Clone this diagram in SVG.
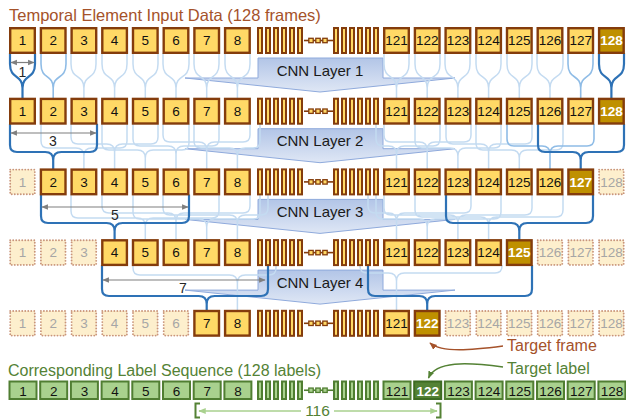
<svg xmlns="http://www.w3.org/2000/svg" xmlns:xlink="http://www.w3.org/1999/xlink" width="626" height="419" viewBox="0 0 626 419">
<style>
text{font-family:'Liberation Sans',Arial,sans-serif}
.n{fill:#ffd966;stroke:#843c0c;stroke-width:2.4}
.h{fill:#bf9000;stroke:#843c0c;stroke-width:2.4}
.f{fill:#fdefcd;stroke:#c9957a;stroke-width:1.9;stroke-dasharray:0.01 3;stroke-linecap:round}
.g{fill:#a9d18e;stroke:#507e32;stroke-width:2}
.gh{fill:#548235;stroke:#3d6b22;stroke-width:2}
.n text,.h text,.f text,.g text,.gh text{stroke:none;font-size:13.5px;text-anchor:middle}
.n text,.g text{fill:#111}
.h text,.gh text{fill:#fff;font-weight:bold}
.f text{fill:#a6a6a6}
.barY{fill:#ffd966;stroke:#843c0c;stroke-width:2}
.barG{fill:#a9d18e;stroke:#507e32;stroke-width:2}
.lt{fill:none;stroke:#c4dbf1;stroke-width:1.5}
.md{fill:none;stroke:#8fbce6;stroke-width:1.6}
.dk{fill:none;stroke:#2e72b6;stroke-width:2.2}
.dim{stroke:#7f7f7f;stroke-width:1.2;marker-start:url(#ga);marker-end:url(#ga)}
.dimt{font-size:14px;fill:#262626;text-anchor:middle}
.cnn{fill:url(#cg);stroke:#8faadc;stroke-width:1}
.cnnt{font-size:15px;fill:#1a1a1a;text-anchor:middle}
</style>
<defs>
<linearGradient id="cg" x1="0" y1="0" x2="0" y2="1"><stop offset="0" stop-color="#b2c5e7"/><stop offset="1" stop-color="#dfe7f5"/></linearGradient>
<marker id="ga" viewBox="0 0 10 10" refX="9" refY="5" markerWidth="5.5" markerHeight="5.5" orient="auto-start-reverse"><path d="M0 1L10 5L0 9z" fill="#7f7f7f"/></marker>
<marker id="ba" viewBox="0 0 10 10" refX="9" refY="5" markerWidth="5" markerHeight="5" orient="auto"><path d="M0 1L10 5L0 9z" fill="#a5522a"/></marker>
<marker id="gra" viewBox="0 0 10 10" refX="9" refY="5" markerWidth="5" markerHeight="5" orient="auto"><path d="M0 1L10 5L0 9z" fill="#548235"/></marker>
<marker id="lga" viewBox="0 0 10 10" refX="9" refY="5" markerWidth="5" markerHeight="5" orient="auto-start-reverse"><path d="M0 1L10 5L0 9z" fill="#a9d18e"/></marker>
<rect id="r" x="1.2" y="1.2" width="24.6" height="24.6"/>
<rect id="rg" x="0.5" y="1" width="27" height="17.5"/>
<polygon id="cnn" points="258,58 383,58 383,78 455,78 320,92 185,78 258,78"/>
<g id="barsY">
<line x1="304" y1="13.5" x2="334" y2="13.5" stroke-width="1.6"/>
<rect x="258" y="1" width="4" height="25"/><rect x="266" y="1" width="4" height="25"/><rect x="274" y="1" width="4" height="25"/><rect x="282" y="1" width="4" height="25"/><rect x="290" y="1" width="4" height="25"/><rect x="298" y="1" width="4" height="25"/>
<rect x="334" y="1" width="4" height="25"/><rect x="342" y="1" width="4" height="25"/><rect x="350" y="1" width="4" height="25"/><rect x="358" y="1" width="4" height="25"/><rect x="366" y="1" width="4" height="25"/><rect x="374" y="1" width="4" height="25"/>
<rect x="308.8" y="11.3" width="4.4" height="4.4" stroke-width="1.3"/><rect x="315.8" y="11.3" width="4.4" height="4.4" stroke-width="1.3"/><rect x="322.8" y="11.3" width="4.4" height="4.4" stroke-width="1.3"/>
</g>
<g id="barsG">
<line x1="304" y1="9.75" x2="334" y2="9.75" stroke-width="1.6"/>
<rect x="258" y="1" width="4" height="17.5"/><rect x="266" y="1" width="4" height="17.5"/><rect x="274" y="1" width="4" height="17.5"/><rect x="282" y="1" width="4" height="17.5"/><rect x="290" y="1" width="4" height="17.5"/><rect x="298" y="1" width="4" height="17.5"/>
<rect x="334" y="1" width="4" height="17.5"/><rect x="342" y="1" width="4" height="17.5"/><rect x="350" y="1" width="4" height="17.5"/><rect x="358" y="1" width="4" height="17.5"/><rect x="366" y="1" width="4" height="17.5"/><rect x="374" y="1" width="4" height="17.5"/>
<rect x="308.8" y="7.55" width="4.4" height="4.4" stroke-width="1.3"/><rect x="315.8" y="7.55" width="4.4" height="4.4" stroke-width="1.3"/><rect x="322.8" y="7.55" width="4.4" height="4.4" stroke-width="1.3"/>
</g>
</defs>
<rect width="626" height="419" fill="#fff"/>

<text x="9" y="21" font-size="16.5" fill="#a5522a">Temporal Element Input Data (128 frames)</text>

<g id="cnn-layers">
<g id="cnn1"><use href="#cnn" class="cnn"/><text class="cnnt" x="320" y="75.5">CNN Layer 1</text></g>
<g id="cnn2"><use href="#cnn" class="cnn" y="70.7"/><text class="cnnt" x="320" y="146.2">CNN Layer 2</text></g>
<g id="cnn3"><use href="#cnn" class="cnn" y="141.4"/><text class="cnnt" x="320" y="216.9">CNN Layer 3</text></g>
<g id="cnn4"><use href="#cnn" class="cnn" y="212.1"/><text class="cnnt" x="320" y="287.6">CNN Layer 4</text></g>
</g>

<g id="connectors">
<path class="lt" d="M71 53V64C71 80 83.9 74 83.9 88V98.7M96 53V64C96 80 83.9 74 83.9 88V98.7M102 53V64C102 80 114.6 74 114.6 88V98.7M127 53V64C127 80 114.6 74 114.6 88V98.7M133 53V64C133 80 145.3 74 145.3 88V98.7M158 53V64C158 80 145.3 74 145.3 88V98.7M163 53V64C163 80 176 74 176 88V98.7M189 53V64C189 80 176 74 176 88V98.7M194 53V64C194 80 206.7 74 206.7 88V98.7M219 53V64C219 80 206.7 74 206.7 88V98.7M225 53V64C225 80 237.4 74 237.4 88V98.7M250 53V64C250 80 237.4 74 237.4 88V98.7"/>
<path class="lt" d="M384 53V64C384 80 396.5 74 396.5 88V98.7M409 53V64C409 80 396.5 74 396.5 88V98.7M415 53V64C415 80 427.2 74 427.2 88V98.7M440 53V64C440 80 427.2 74 427.2 88V98.7M445 53V64C445 80 457.9 74 457.9 88V98.7M470 53V64C470 80 457.9 74 457.9 88V98.7M476 53V64C476 80 488.6 74 488.6 88V98.7M501 53V64C501 80 488.6 74 488.6 88V98.7M507 53V64C507 80 519.3 74 519.3 88V98.7M532 53V64C532 80 519.3 74 519.3 88V98.7M537 53V64C537 80 550 74 550 88V98.7M563 53V64C563 80 550 74 550 88V98.7"/>
<path class="md" d="M41 53V64C41 80 53.2 74 53.2 88V98.7M66 53V64C66 80 53.2 74 53.2 88V98.7M568 53V64C568 80 580.7 74 580.7 88V98.7M593 53V64C593 80 580.7 74 580.7 88V98.7"/>
<path class="lt" d="M41 123.7V141Q41 148 48 148H75.9Q83.9 148 83.9 156V169.4M127 123.7V141Q127 148 120 148H91.9Q83.9 148 83.9 156V169.4M71 123.7V137Q71 144 78 144H106.6Q114.6 144 114.6 152V169.4M158 123.7V137Q158 144 151 144H122.6Q114.6 144 114.6 152V169.4M102 123.7V143Q102 150 109 150H137.3Q145.3 150 145.3 158V169.4M189 123.7V143Q189 150 182 150H153.3Q145.3 150 145.3 158V169.4M133 123.7V139Q133 146 140 146H168Q176 146 176 154V169.4M219 123.7V139Q219 146 212 146H184Q176 146 176 154V169.4M163 123.7V135Q163 142 170 142H198.7Q206.7 142 206.7 150V169.4M250 123.7V135Q250 142 243 142H214.7Q206.7 142 206.7 150V169.4M194 123.7V141Q194 148 201 148H229.4Q237.4 148 237.4 156V169.4M260 123.7V141Q260 148 253 148H245.4Q237.4 148 237.4 156V169.4"/>
<path class="lt" d="M376 123.7V139Q376 146 383 146H388.5Q396.5 146 396.5 154V169.4M440 123.7V139Q440 146 433 146H404.5Q396.5 146 396.5 154V169.4M384 123.7V135Q384 142 391 142H419.2Q427.2 142 427.2 150V169.4M471 123.7V135Q471 142 464 142H435.2Q427.2 142 427.2 150V169.4M415 123.7V141Q415 148 422 148H449.9Q457.9 148 457.9 156V169.4M501 123.7V141Q501 148 494 148H465.9Q457.9 148 457.9 156V169.4M446 123.7V137Q446 144 453 144H480.6Q488.6 144 488.6 152V169.4M532 123.7V137Q532 144 525 144H496.6Q488.6 144 488.6 152V169.4M476 123.7V143Q476 150 483 150H511.3Q519.3 150 519.3 158V169.4M563 123.7V143Q563 150 556 150H527.3Q519.3 150 519.3 158V169.4"/>
<path class="md" d="M507 123.7V139Q507 146 514 146H542Q550 146 550 154V169.4M594 123.7V139Q594 146 587 146H558Q550 146 550 154V169.4"/>
<path class="lt" d="M71 194.4V211Q71 218 78 218H137.3Q145.3 218 145.3 226V240.1M219 194.4V211Q219 218 212 218H153.3Q145.3 218 145.3 226V240.1M102 194.4V206Q102 213 109 213H168Q176 213 176 221V240.1M250 194.4V206Q250 213 243 213H184Q176 213 176 221V240.1M133 194.4V212Q133 219 140 219H198.7Q206.7 219 206.7 227V240.1M260 194.4V212Q260 219 253 219H214.7Q206.7 219 206.7 227V240.1M163 194.4V208Q163 215 170 215H229.4Q237.4 215 237.4 223V240.1M268 194.4V208Q268 215 261 215H245.4Q237.4 215 237.4 223V240.1"/>
<path class="lt" d="M368 194.4V206Q368 213 375 213H388.5Q396.5 213 396.5 221V240.1M471 194.4V206Q471 213 464 213H404.5Q396.5 213 396.5 221V240.1M376 194.4V212Q376 219 383 219H419.2Q427.2 219 427.2 227V240.1M501 194.4V212Q501 219 494 219H435.2Q427.2 219 427.2 227V240.1M384 194.4V208Q384 215 391 215H449.9Q457.9 215 457.9 223V240.1M532 194.4V208Q532 215 525 215H465.9Q457.9 215 457.9 223V240.1M415 194.4V210Q415 217 422 217H480.6Q488.6 217 488.6 225V240.1M563 194.4V210Q563 217 556 217H496.6Q488.6 217 488.6 225V240.1"/>
<path class="lt" d="M133 265.1V268Q133 275 140 275H229.4Q237.4 275 237.4 283V310.8M276 265.1V268Q276 275 269 275H245.4Q237.4 275 237.4 283V310.8M360 265.1V266Q360 273 367 273H388.5Q396.5 273 396.5 281V310.8M502 265.1V266Q502 273 495 273H404.5Q396.5 273 396.5 281V310.8"/>
<path class="dk" d="M10 53V64C10 80 22.5 74 22.5 88V98.7M35 53V64C35 80 22.5 74 22.5 88V98.7"/>
<path class="dk" d="M599 53V64C599 80 611.4 74 611.4 88V98.7M624 53V64C624 80 611.4 74 611.4 88V98.7"/>
<path class="dk" d="M10 123.7V145Q10 152 17 152H45.2Q53.2 152 53.2 160V169.4M97 123.7V145Q97 152 90 152H61.2Q53.2 152 53.2 160V169.4"/>
<path class="dk" d="M538 123.7V145Q538 152 545 152H572.7Q580.7 152 580.7 160V169.4M624 123.7V145Q624 152 617 152H588.7Q580.7 152 580.7 160V169.4"/>
<path class="dk" d="M41 194.4V216Q41 223 48 223H106.6Q114.6 223 114.6 231V240.1M189 194.4V216Q189 223 182 223H122.6Q114.6 223 114.6 231V240.1"/>
<path class="dk" d="M446 194.4V216Q446 223 453 223H511.3Q519.3 223 519.3 231V240.1M593 194.4V216Q593 223 586 223H527.3Q519.3 223 519.3 231V240.1"/>
<path class="dk" d="M102 265.1V289Q102 296 109 296H198.7Q206.7 296 206.7 304V310.8M268 265.1V289Q268 296 261 296H214.7Q206.7 296 206.7 304V310.8"/>
<path class="dk" d="M368 265.1V289Q368 296 375 296H419.2Q427.2 296 427.2 304V310.8M532 265.1V289Q532 296 525 296H435.2Q427.2 296 427.2 304V310.8"/>
<path d="M503 346C472 350 442 353 430 343" fill="none" stroke="#a5522a" stroke-width="1.5" marker-end="url(#ba)"/>
<path d="M503 367C466 362 436 361 428.5 378" fill="none" stroke="#548235" stroke-width="1.5" marker-end="url(#gra)"/>
</g>

<g id="row1">
<g id="in1" class="n" transform="translate(9 27)"><use href="#r"/><text x="13.5" y="18.3">1</text></g>
<g id="in2" class="n" transform="translate(39.7 27)"><use href="#r"/><text x="13.5" y="18.3">2</text></g>
<g id="in3" class="n" transform="translate(70.4 27)"><use href="#r"/><text x="13.5" y="18.3">3</text></g>
<g id="in4" class="n" transform="translate(101.1 27)"><use href="#r"/><text x="13.5" y="18.3">4</text></g>
<g id="in5" class="n" transform="translate(131.8 27)"><use href="#r"/><text x="13.5" y="18.3">5</text></g>
<g id="in6" class="n" transform="translate(162.5 27)"><use href="#r"/><text x="13.5" y="18.3">6</text></g>
<g id="in7" class="n" transform="translate(193.2 27)"><use href="#r"/><text x="13.5" y="18.3">7</text></g>
<g id="in8" class="n" transform="translate(223.9 27)"><use href="#r"/><text x="13.5" y="18.3">8</text></g>
<g id="in-bars"><use href="#barsY" class="barY" y="27"/></g>
<g id="in121" class="n" transform="translate(383 27)"><use href="#r"/><text x="13.5" y="18.3">121</text></g>
<g id="in122" class="n" transform="translate(413.7 27)"><use href="#r"/><text x="13.5" y="18.3">122</text></g>
<g id="in123" class="n" transform="translate(444.4 27)"><use href="#r"/><text x="13.5" y="18.3">123</text></g>
<g id="in124" class="n" transform="translate(475.1 27)"><use href="#r"/><text x="13.5" y="18.3">124</text></g>
<g id="in125" class="n" transform="translate(505.8 27)"><use href="#r"/><text x="13.5" y="18.3">125</text></g>
<g id="in126" class="n" transform="translate(536.5 27)"><use href="#r"/><text x="13.5" y="18.3">126</text></g>
<g id="in127" class="n" transform="translate(567.2 27)"><use href="#r"/><text x="13.5" y="18.3">127</text></g>
<g id="in128" class="h" transform="translate(597.9 27)"><use href="#r"/><text x="13.5" y="18.3">128</text></g>
</g>

<g id="row2">
<g id="l1-1" class="n" transform="translate(9 97.7)"><use href="#r"/><text x="13.5" y="18.3">1</text></g>
<g id="l1-2" class="n" transform="translate(39.7 97.7)"><use href="#r"/><text x="13.5" y="18.3">2</text></g>
<g id="l1-3" class="n" transform="translate(70.4 97.7)"><use href="#r"/><text x="13.5" y="18.3">3</text></g>
<g id="l1-4" class="n" transform="translate(101.1 97.7)"><use href="#r"/><text x="13.5" y="18.3">4</text></g>
<g id="l1-5" class="n" transform="translate(131.8 97.7)"><use href="#r"/><text x="13.5" y="18.3">5</text></g>
<g id="l1-6" class="n" transform="translate(162.5 97.7)"><use href="#r"/><text x="13.5" y="18.3">6</text></g>
<g id="l1-7" class="n" transform="translate(193.2 97.7)"><use href="#r"/><text x="13.5" y="18.3">7</text></g>
<g id="l1-8" class="n" transform="translate(223.9 97.7)"><use href="#r"/><text x="13.5" y="18.3">8</text></g>
<g id="l1-bars"><use href="#barsY" class="barY" y="97.7"/></g>
<g id="l1-121" class="n" transform="translate(383 97.7)"><use href="#r"/><text x="13.5" y="18.3">121</text></g>
<g id="l1-122" class="n" transform="translate(413.7 97.7)"><use href="#r"/><text x="13.5" y="18.3">122</text></g>
<g id="l1-123" class="n" transform="translate(444.4 97.7)"><use href="#r"/><text x="13.5" y="18.3">123</text></g>
<g id="l1-124" class="n" transform="translate(475.1 97.7)"><use href="#r"/><text x="13.5" y="18.3">124</text></g>
<g id="l1-125" class="n" transform="translate(505.8 97.7)"><use href="#r"/><text x="13.5" y="18.3">125</text></g>
<g id="l1-126" class="n" transform="translate(536.5 97.7)"><use href="#r"/><text x="13.5" y="18.3">126</text></g>
<g id="l1-127" class="n" transform="translate(567.2 97.7)"><use href="#r"/><text x="13.5" y="18.3">127</text></g>
<g id="l1-128" class="h" transform="translate(597.9 97.7)"><use href="#r"/><text x="13.5" y="18.3">128</text></g>
</g>

<g id="row3">
<g id="l2-1" class="f" transform="translate(9 168.4)"><use href="#r"/><text x="13.5" y="18.3">1</text></g>
<g id="l2-2" class="n" transform="translate(39.7 168.4)"><use href="#r"/><text x="13.5" y="18.3">2</text></g>
<g id="l2-3" class="n" transform="translate(70.4 168.4)"><use href="#r"/><text x="13.5" y="18.3">3</text></g>
<g id="l2-4" class="n" transform="translate(101.1 168.4)"><use href="#r"/><text x="13.5" y="18.3">4</text></g>
<g id="l2-5" class="n" transform="translate(131.8 168.4)"><use href="#r"/><text x="13.5" y="18.3">5</text></g>
<g id="l2-6" class="n" transform="translate(162.5 168.4)"><use href="#r"/><text x="13.5" y="18.3">6</text></g>
<g id="l2-7" class="n" transform="translate(193.2 168.4)"><use href="#r"/><text x="13.5" y="18.3">7</text></g>
<g id="l2-8" class="n" transform="translate(223.9 168.4)"><use href="#r"/><text x="13.5" y="18.3">8</text></g>
<g id="l2-bars"><use href="#barsY" class="barY" y="168.4"/></g>
<g id="l2-121" class="n" transform="translate(383 168.4)"><use href="#r"/><text x="13.5" y="18.3">121</text></g>
<g id="l2-122" class="n" transform="translate(413.7 168.4)"><use href="#r"/><text x="13.5" y="18.3">122</text></g>
<g id="l2-123" class="n" transform="translate(444.4 168.4)"><use href="#r"/><text x="13.5" y="18.3">123</text></g>
<g id="l2-124" class="n" transform="translate(475.1 168.4)"><use href="#r"/><text x="13.5" y="18.3">124</text></g>
<g id="l2-125" class="n" transform="translate(505.8 168.4)"><use href="#r"/><text x="13.5" y="18.3">125</text></g>
<g id="l2-126" class="n" transform="translate(536.5 168.4)"><use href="#r"/><text x="13.5" y="18.3">126</text></g>
<g id="l2-127" class="h" transform="translate(567.2 168.4)"><use href="#r"/><text x="13.5" y="18.3">127</text></g>
<g id="l2-128" class="f" transform="translate(597.9 168.4)"><use href="#r"/><text x="13.5" y="18.3">128</text></g>
</g>

<g id="row4">
<g id="l3-1" class="f" transform="translate(9 239.1)"><use href="#r"/><text x="13.5" y="18.3">1</text></g>
<g id="l3-2" class="f" transform="translate(39.7 239.1)"><use href="#r"/><text x="13.5" y="18.3">2</text></g>
<g id="l3-3" class="f" transform="translate(70.4 239.1)"><use href="#r"/><text x="13.5" y="18.3">3</text></g>
<g id="l3-4" class="n" transform="translate(101.1 239.1)"><use href="#r"/><text x="13.5" y="18.3">4</text></g>
<g id="l3-5" class="n" transform="translate(131.8 239.1)"><use href="#r"/><text x="13.5" y="18.3">5</text></g>
<g id="l3-6" class="n" transform="translate(162.5 239.1)"><use href="#r"/><text x="13.5" y="18.3">6</text></g>
<g id="l3-7" class="n" transform="translate(193.2 239.1)"><use href="#r"/><text x="13.5" y="18.3">7</text></g>
<g id="l3-8" class="n" transform="translate(223.9 239.1)"><use href="#r"/><text x="13.5" y="18.3">8</text></g>
<g id="l3-bars"><use href="#barsY" class="barY" y="239.1"/></g>
<g id="l3-121" class="n" transform="translate(383 239.1)"><use href="#r"/><text x="13.5" y="18.3">121</text></g>
<g id="l3-122" class="n" transform="translate(413.7 239.1)"><use href="#r"/><text x="13.5" y="18.3">122</text></g>
<g id="l3-123" class="n" transform="translate(444.4 239.1)"><use href="#r"/><text x="13.5" y="18.3">123</text></g>
<g id="l3-124" class="n" transform="translate(475.1 239.1)"><use href="#r"/><text x="13.5" y="18.3">124</text></g>
<g id="l3-125" class="h" transform="translate(505.8 239.1)"><use href="#r"/><text x="13.5" y="18.3">125</text></g>
<g id="l3-126" class="f" transform="translate(536.5 239.1)"><use href="#r"/><text x="13.5" y="18.3">126</text></g>
<g id="l3-127" class="f" transform="translate(567.2 239.1)"><use href="#r"/><text x="13.5" y="18.3">127</text></g>
<g id="l3-128" class="f" transform="translate(597.9 239.1)"><use href="#r"/><text x="13.5" y="18.3">128</text></g>
</g>

<g id="row5">
<g id="l4-1" class="f" transform="translate(9 309.8)"><use href="#r"/><text x="13.5" y="18.3">1</text></g>
<g id="l4-2" class="f" transform="translate(39.7 309.8)"><use href="#r"/><text x="13.5" y="18.3">2</text></g>
<g id="l4-3" class="f" transform="translate(70.4 309.8)"><use href="#r"/><text x="13.5" y="18.3">3</text></g>
<g id="l4-4" class="f" transform="translate(101.1 309.8)"><use href="#r"/><text x="13.5" y="18.3">4</text></g>
<g id="l4-5" class="f" transform="translate(131.8 309.8)"><use href="#r"/><text x="13.5" y="18.3">5</text></g>
<g id="l4-6" class="f" transform="translate(162.5 309.8)"><use href="#r"/><text x="13.5" y="18.3">6</text></g>
<g id="l4-7" class="n" transform="translate(193.2 309.8)"><use href="#r"/><text x="13.5" y="18.3">7</text></g>
<g id="l4-8" class="n" transform="translate(223.9 309.8)"><use href="#r"/><text x="13.5" y="18.3">8</text></g>
<g id="l4-bars"><use href="#barsY" class="barY" y="309.8"/></g>
<g id="l4-121" class="n" transform="translate(383 309.8)"><use href="#r"/><text x="13.5" y="18.3">121</text></g>
<g id="l4-122" class="h" transform="translate(413.7 309.8)"><use href="#r"/><text x="13.5" y="18.3">122</text></g>
<g id="l4-123" class="f" transform="translate(444.4 309.8)"><use href="#r"/><text x="13.5" y="18.3">123</text></g>
<g id="l4-124" class="f" transform="translate(475.1 309.8)"><use href="#r"/><text x="13.5" y="18.3">124</text></g>
<g id="l4-125" class="f" transform="translate(505.8 309.8)"><use href="#r"/><text x="13.5" y="18.3">125</text></g>
<g id="l4-126" class="f" transform="translate(536.5 309.8)"><use href="#r"/><text x="13.5" y="18.3">126</text></g>
<g id="l4-127" class="f" transform="translate(567.2 309.8)"><use href="#r"/><text x="13.5" y="18.3">127</text></g>
<g id="l4-128" class="f" transform="translate(597.9 309.8)"><use href="#r"/><text x="13.5" y="18.3">128</text></g>
</g>

<text x="507" y="351" font-size="16" fill="#a5522a">Target frame</text>
<text x="507" y="374" font-size="16" fill="#548235">Target label</text>
<text x="8" y="376" font-size="16" fill="#548235">Corresponding Label Sequence (128 labels)</text>

<g id="labels">
<g id="lb1" class="g" transform="translate(9 380.5)"><use href="#rg"/><text x="14" y="15">1</text></g>
<g id="lb2" class="g" transform="translate(39.7 380.5)"><use href="#rg"/><text x="14" y="15">2</text></g>
<g id="lb3" class="g" transform="translate(70.4 380.5)"><use href="#rg"/><text x="14" y="15">3</text></g>
<g id="lb4" class="g" transform="translate(101.1 380.5)"><use href="#rg"/><text x="14" y="15">4</text></g>
<g id="lb5" class="g" transform="translate(131.8 380.5)"><use href="#rg"/><text x="14" y="15">5</text></g>
<g id="lb6" class="g" transform="translate(162.5 380.5)"><use href="#rg"/><text x="14" y="15">6</text></g>
<g id="lb7" class="g" transform="translate(193.2 380.5)"><use href="#rg"/><text x="14" y="15">7</text></g>
<g id="lb8" class="g" transform="translate(223.9 380.5)"><use href="#rg"/><text x="14" y="15">8</text></g>
<g id="lb-bars"><use href="#barsG" class="barG" y="380.5"/></g>
<g id="lb121" class="g" transform="translate(383 380.5)"><use href="#rg"/><text x="14" y="15">121</text></g>
<g id="lb122" class="gh" transform="translate(413.7 380.5)"><use href="#rg"/><text x="14" y="15">122</text></g>
<g id="lb123" class="g" transform="translate(444.4 380.5)"><use href="#rg"/><text x="14" y="15">123</text></g>
<g id="lb124" class="g" transform="translate(475.1 380.5)"><use href="#rg"/><text x="14" y="15">124</text></g>
<g id="lb125" class="g" transform="translate(505.8 380.5)"><use href="#rg"/><text x="14" y="15">125</text></g>
<g id="lb126" class="g" transform="translate(536.5 380.5)"><use href="#rg"/><text x="14" y="15">126</text></g>
<g id="lb127" class="g" transform="translate(567.2 380.5)"><use href="#rg"/><text x="14" y="15">127</text></g>
<g id="lb128" class="g" transform="translate(597.9 380.5)"><use href="#rg"/><text x="14" y="15">128</text></g>
</g>

<g id="dimensions">
<line class="dim" x1="11" y1="62.5" x2="34" y2="62.5"/>
<text class="dimt" x="22.5" y="77">1</text>
<line class="dim" x1="11" y1="133" x2="96" y2="133"/>
<text class="dimt" x="53" y="146">3</text>
<line class="dim" x1="42" y1="207" x2="188" y2="207"/>
<text class="dimt" x="115" y="220">5</text>
<line class="dim" x1="103" y1="280" x2="265" y2="280"/>
<text class="dimt" x="183" y="293">7</text>
</g>

<g id="span116">
<path d="M199 411H301M334 411H437" fill="none" stroke="#a9d18e" stroke-width="1.5"/>
<path d="M199 411H201" stroke="#a9d18e" stroke-width="1.5" marker-start="url(#lga)"/>
<path d="M435 411H437" stroke="#a9d18e" stroke-width="1.5" marker-end="url(#lga)"/>
<path d="M200 403.5H195.5V417.5H200M436 403.5H440.5V417.5H436" fill="none" stroke="#548235" stroke-width="2"/>
<text x="317.5" y="416" font-size="15.5" fill="#548235" text-anchor="middle">116</text>
</g>
</svg>
